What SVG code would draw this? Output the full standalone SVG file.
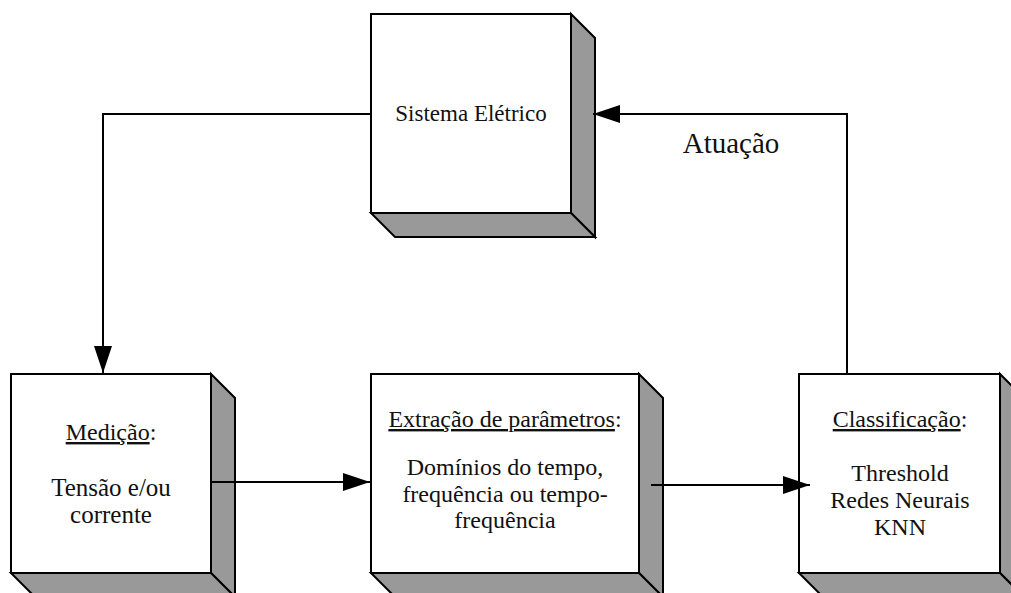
<svg xmlns="http://www.w3.org/2000/svg" width="1011" height="593" viewBox="0 0 1011 593">
<style>
.face{fill:#ffffff;stroke:#000;stroke-width:2}
.side{fill:#999999;stroke:#000;stroke-width:2;stroke-linejoin:miter}
.t{font-family:"Liberation Serif","Times New Roman",serif;fill:#111;text-anchor:middle}
.c{fill:none;stroke:#000;stroke-width:2}
</style>
<defs>
<marker id="ah" viewBox="0 0 27 18" refX="27" refY="9" markerWidth="27" markerHeight="18" markerUnits="userSpaceOnUse" orient="auto">
<path d="M0,0 L27,9 L0,18 Z" fill="#000"/>
</marker>
</defs>
<rect width="1011" height="593" fill="#fff"/>
<g id="sistema">
<polygon class="side" points="571,14 595,38 595,237 571,213"/>
<polygon class="side" points="371,213 571,213 595,237 395,237"/>
<rect class="face" x="371" y="14" width="200" height="199"/>
<text class="t" x="471" y="121" font-size="23">Sistema Elétrico</text>
</g>
<g id="medicao">
<polygon class="side" points="211,374 235,398 235,597 211,573"/>
<polygon class="side" points="11,573 211,573 235,597 35,597"/>
<rect class="face" x="11" y="374" width="200" height="199"/>
<text class="t" x="111" y="440" font-size="24"><tspan text-decoration="underline">Medição</tspan>:</text>
<text class="t" x="111" y="496" font-size="25">Tensão e/ou</text>
<text class="t" x="111" y="523" font-size="25">corrente</text>
</g>
<g id="extracao">
<polygon class="side" points="639,374 663,398 663,597 639,573"/>
<polygon class="side" points="371,573 639,573 663,597 395,597"/>
<rect class="face" x="371" y="374" width="268" height="199"/>
<text class="t" x="505" y="427" font-size="24"><tspan text-decoration="underline">Extração de parâmetros</tspan>:</text>
<text class="t" x="505" y="475" font-size="24">Domínios do tempo,</text>
<text class="t" x="505" y="502" font-size="24">frequência ou tempo-</text>
<text class="t" x="505" y="528" font-size="24">frequência</text>
</g>
<g id="classificacao">
<polygon class="side" points="1000,374 1024,398 1024,597 1000,573"/>
<polygon class="side" points="799,573 1000,573 1024,597 823,597"/>
<rect class="face" x="799" y="374" width="201" height="199"/>
<text class="t" x="900" y="427" font-size="24"><tspan text-decoration="underline">Classificação</tspan>:</text>
<text class="t" x="900" y="481" font-size="24">Threshold</text>
<text class="t" x="900" y="508" font-size="24">Redes Neurais</text>
<text class="t" x="900" y="535" font-size="24">KNN</text>
</g>
<g id="connectors">
<polyline class="c" points="371,114 103,114 103,373" marker-end="url(#ah)"/>
<polyline class="c" points="847,374 847,114 593,114" marker-end="url(#ah)"/>
<line class="c" x1="211" y1="482" x2="370" y2="482" marker-end="url(#ah)"/>
<line class="c" x1="651" y1="485" x2="810" y2="485" marker-end="url(#ah)"/>
<text class="t" x="731" y="153" font-size="29">Atuação</text>
</g>
</svg>
